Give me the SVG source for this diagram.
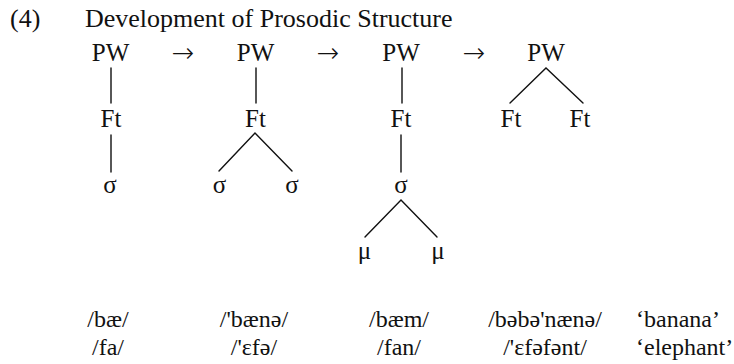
<svg xmlns="http://www.w3.org/2000/svg" width="734" height="364" viewBox="0 0 734 364">
<style>
text{font-family:"Liberation Serif","Times New Roman",serif;fill:#111}
.t{font-size:26px}
.n{font-size:25px;text-anchor:middle}
.ar{font-family:"DejaVu Sans",sans-serif;font-size:27px;text-anchor:middle;font-weight:200}
.ipa{font-size:24px;text-anchor:middle}
.gl{font-size:24px}
.e{stroke:#111;stroke-width:1.4;fill:none;stroke-linecap:round}
</style>
<rect width="734" height="364" fill="#fff"/>
<g id="heading">
<text class="t" x="10" y="27">(4)</text>
<text class="t" x="85" y="27">Development of Prosodic Structure</text>
</g>
<g id="arrows">
<text class="ar" x="183" y="62">→</text>
<text class="ar" x="328" y="62">→</text>
<text class="ar" x="474" y="62">→</text>
</g>
<g id="connectors">
<path class="e" d="M111 68V103M111 135V172"/>
<path class="e" d="M256 68V103M219 171L255 133L292 171"/>
<path class="e" d="M402 68V103M401 135V172M365 237L401 200L437 237"/>
<path class="e" d="M510 103L546 68L583 103"/>
</g>
<g id="tree1">
<text class="n" x="110.5" y="61">PW</text>
<text class="n" x="111" y="127">Ft</text>
<text class="n" x="110" y="193">σ</text>
</g>
<g id="tree2">
<text class="n" x="255.5" y="61">PW</text>
<text class="n" x="255.5" y="127">Ft</text>
<text class="n" x="219.5" y="193">σ</text>
<text class="n" x="292" y="193">σ</text>
</g>
<g id="tree3">
<text class="n" x="401" y="61">PW</text>
<text class="n" x="401" y="127">Ft</text>
<text class="n" x="401" y="193">σ</text>
<text class="n" x="364.5" y="259">μ</text>
<text class="n" x="438" y="259">μ</text>
</g>
<g id="tree4">
<text class="n" x="546" y="61">PW</text>
<text class="n" x="511" y="127">Ft</text>
<text class="n" x="580" y="127">Ft</text>
</g>
<g id="examples">
<text class="ipa" x="108" y="327">/bæ/</text>
<text class="ipa" x="254" y="327">/'bænə/</text>
<text class="ipa" x="399" y="327">/bæm/</text>
<text class="ipa" x="545" y="327">/bəbə'nænə/</text>
<text class="gl" x="636" y="327">‘banana’</text>
<text class="ipa" x="108" y="355">/fa/</text>
<text class="ipa" x="254" y="355">/'ɛfə/</text>
<text class="ipa" x="399" y="355">/fan/</text>
<text class="ipa" x="545" y="355">/'ɛfəfənt/</text>
<text class="gl" x="636" y="355">‘elephant’</text>
</g>
</svg>
